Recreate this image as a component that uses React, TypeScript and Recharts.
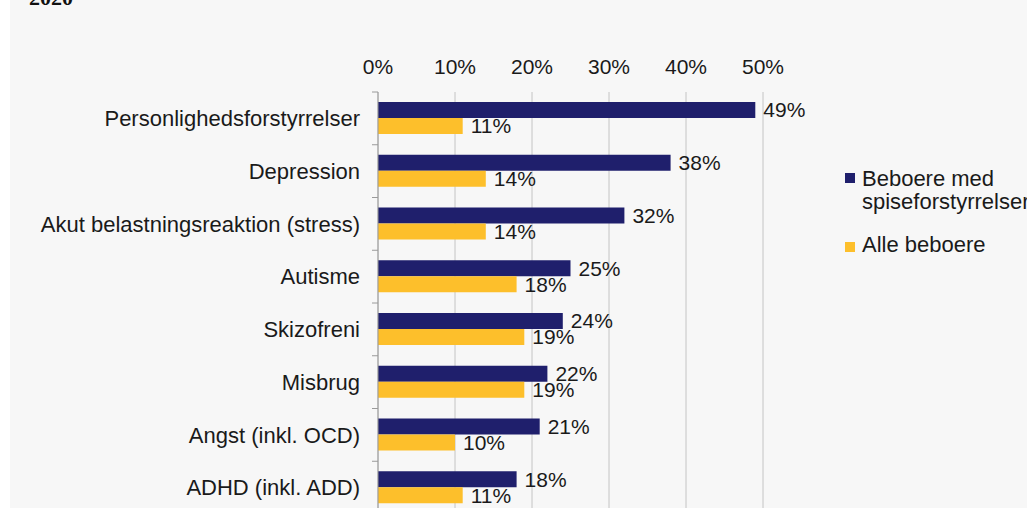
import React from 'react';
import {
  BarChart,
  Bar,
  XAxis,
  YAxis,
  CartesianGrid,
  LabelList,
} from 'recharts';

// --- Data ---
const categories = [
  'Personlighedsforstyrrelser',
  'Depression',
  'Akut belastningsreaktion (stress)',
  'Autisme',
  'Skizofreni',
  'Misbrug',
  'Angst (inkl. OCD)',
  'ADHD (inkl. ADD)',
];
const beboereSpise = [49, 38, 32, 25, 24, 22, 21, 18];
const alleBeboere = [11, 14, 14, 18, 19, 19, 10, 11];
const xTicks = [0, 10, 20, 30, 40, 50];

const series = [
  { key: 'spise', name: 'Beboere med spiseforstyrrelser', color: '#1f1f6c' },
  { key: 'alle', name: 'Alle beboere', color: '#fdbf2b' },
];

const data = categories.map((name, i) => ({
  name,
  spise: beboereSpise[i],
  alle: alleBeboere[i],
}));

const FONT = '"Liberation Sans", Arial, Helvetica, sans-serif';
const PLOT_H = 422;
const BAND = PLOT_H / categories.length;

// category label + small boundary tick above each band
const CategoryTick = (props: any) => {
  const { x, y, payload } = props;
  return (
    <g>
      <line x1={x - 6} x2={x} y1={y - BAND / 2} y2={y - BAND / 2} stroke="#9a9a9a" />
      <text
        x={x - 18}
        y={y}
        dy="0.35em"
        textAnchor="end"
        fontSize={22}
        fontFamily={FONT}
        fill="#1a1a1a"
      >
        {payload.value}
      </text>
    </g>
  );
};

const pct = (v: any) => `${v}%`;

export default function App() {
  return (
    <div
      style={{
        position: 'fixed',
        left: 0,
        top: 0,
        width: 1027,
        height: 508,
        overflow: 'hidden',
        background: '#ffffff',
        fontFamily: FONT,
      }}
    >
      <div
        style={{
          position: 'absolute',
          left: 10,
          top: 0,
          right: 0,
          bottom: 0,
          background: '#f7f7f7',
        }}
      />
      <div
        style={{
          position: 'absolute',
          left: 29,
          top: -13,
          fontFamily: '"Liberation Serif", "Times New Roman", serif',
          fontWeight: 'bold',
          fontSize: 22,
          lineHeight: '22px',
          color: '#111',
        }}
      >
        2020
      </div>

      <div style={{ position: 'absolute', left: 0, top: 0 }}>
        <BarChart
          width={1027}
          height={524}
          data={data}
          layout="vertical"
          barGap={0}
          margin={{ top: 52, right: 264, left: 0, bottom: 10 }}
        >
          <CartesianGrid horizontal={false} vertical={true} stroke="#c4c4c4" />
          <XAxis
            type="number"
            orientation="top"
            domain={[0, 50]}
            ticks={xTicks}
            tickFormatter={pct}
            axisLine={false}
            tickLine={false}
            tickSize={0}
            tickMargin={18}
            height={40}
            tick={{ fontSize: 21, fill: '#1a1a1a', fontFamily: FONT }}
          />
          <YAxis
            type="category"
            dataKey="name"
            width={378}
            axisLine={{ stroke: '#9a9a9a' }}
            tickLine={false}
            tickSize={0}
            tickMargin={0}
            interval={0}
            tick={<CategoryTick />}
          />
          {series.map((s) => (
            <Bar
              key={s.key}
              dataKey={s.key}
              name={s.name}
              fill={s.color}
              barSize={16}
              isAnimationActive={false}
            >
              <LabelList
                dataKey={s.key}
                position="right"
                offset={8}
                formatter={pct}
                fill="#1a1a1a"
                fontSize={21}
                fontFamily={FONT}
              />
            </Bar>
          ))}
        </BarChart>
      </div>

      {/* legend */}
      <div style={{ position: 'absolute', left: 845, top: 167, width: 240 }}>
        {series.map((s, i) => (
          <div
            key={s.key}
            style={{
              position: 'relative',
              paddingLeft: 17,
              marginBottom: i === 0 ? 20 : 0,
              fontSize: 22,
              lineHeight: '23px',
              color: '#1a1a1a',
              width: 185,
            }}
          >
            <span
              style={{
                position: 'absolute',
                left: 0,
                top: i === 0 ? 6 : 9,
                width: 10,
                height: 10,
                background: s.color,
              }}
            />
            {s.name}
          </div>
        ))}
      </div>
    </div>
  );
}
